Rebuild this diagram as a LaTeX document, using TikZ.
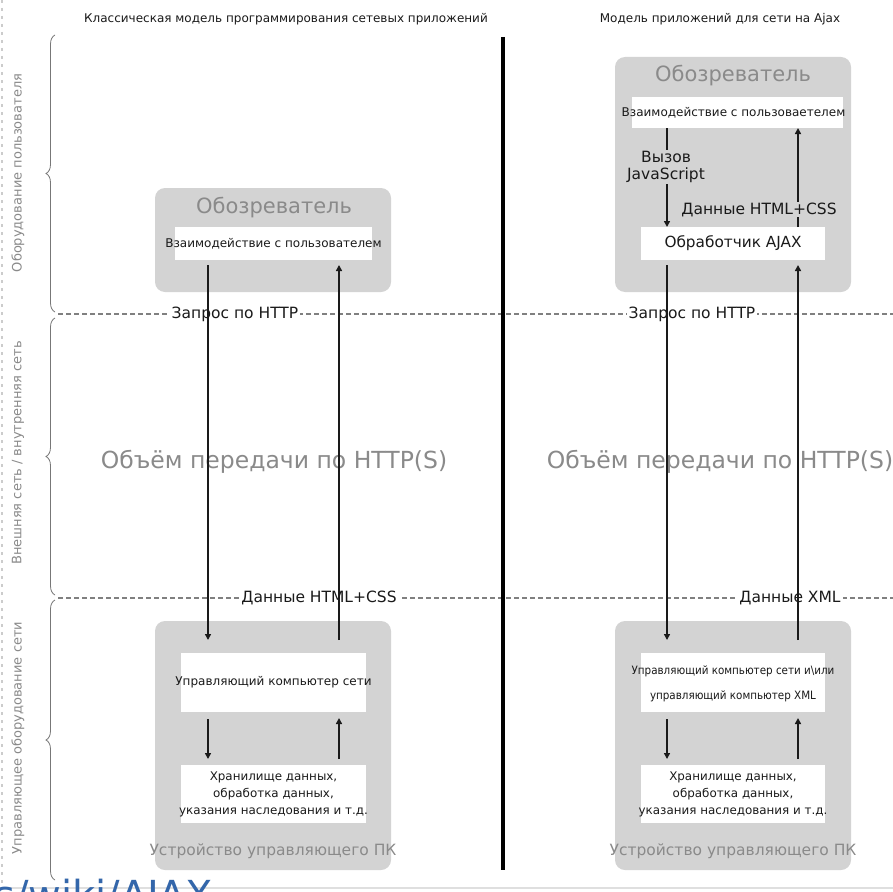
\documentclass[tikz,border=0pt]{standalone}
\usepackage{fontspec}
\setmainfont{DejaVu Sans}
\usetikzlibrary{decorations.pathreplacing,arrows.meta}
\definecolor{boxgray}{HTML}{D3D3D3}
\definecolor{txtgray}{HTML}{8A8A8A}
\definecolor{dashgray}{HTML}{808080}
\definecolor{bracegray}{HTML}{777777}
\definecolor{linkblue}{HTML}{3366AA}
\definecolor{ink}{HTML}{1A1A1A}
\begin{document}
\begin{tikzpicture}[x=1pt,y=-1pt,
  area/.style={fill=boxgray,rounded corners=10pt,draw=none,inner sep=0pt},
  wbox/.style={fill=white,draw=none,inner sep=0pt,align=center,text=ink},
  wtext/.style={text=ink,inner sep=0pt,align=center},
  areatitle/.style={text=txtgray,font=\fontsize{21}{24}\selectfont,inner sep=0pt},
  bigtxt/.style={text=txtgray,font=\fontsize{23.5}{26}\selectfont,inner sep=0pt},
  sidelab/.style={text=txtgray,font=\fontsize{13}{15}\selectfont,rotate=90,inner sep=0pt},
  headlab/.style={text=ink,font=\fontsize{12}{14}\selectfont,inner sep=0pt},
  linelab/.style={text=ink,font=\fontsize{15.5}{18}\selectfont,fill=white,inner sep=2pt},
  innerlab/.style={text=ink,font=\fontsize{15.5}{17}\selectfont,fill=boxgray,inner sep=1pt,align=center},
  sep/.style={dashgray,line width=1.2pt,dash pattern=on 5pt off 3pt},
  bracestyle/.style={bracegray,line width=0.8pt,decorate,decoration={brace,amplitude=9pt}},
  flow/.style={ink,line width=1.8pt,-{Triangle[length=6pt,width=6pt]}}
]
\clip (0,0) rectangle (893,891);
\useasboundingbox (0,0) rectangle (893,891);
\fill[white] (0,0) rectangle (893,891);

% far left dashed rule
\draw[lightgray!80,line width=1.5pt,dash pattern=on 3pt off 5pt] (2,0) -- (2,884);

% headings
\node[headlab] (h1) at (286,19) {Классическая модель программирования сетевых приложений};
\node[headlab] (h2) at (720,19) {Модель приложений для сети на Ajax};

% braces and side labels
\draw[bracestyle] (55,312) -- (55,35);
\draw[bracestyle] (55,595) -- (55,318);
\draw[bracestyle] (55,880) -- (55,600);
\node[sidelab] (s1) at (18,173) {Оборудование пользователя};
\node[sidelab] (s2) at (18,453) {Внешняя сеть / внутренняя сеть};
\node[sidelab] (s3) at (18,738) {Управляющее оборудование сети};

% dashed separators
\coordinate (d1a) at (58,314); \coordinate (d1b) at (893,314);
\coordinate (d2a) at (58,598); \coordinate (d2b) at (893,598);
\draw[sep] (d1a) -- (d1b);
\draw[sep] (d2a) -- (d2b);

% central divider
\coordinate (va) at (503,37); \coordinate (vb) at (503,870);
\draw[black,line width=4pt] (va) -- (vb);

% labels on separators
\node[linelab] (q1) at (235,314) {Запрос по HTTP};
\node[linelab] (q2) at (692,314) {Запрос по HTTP};
\node[linelab] (r1) at (319,598) {Данные HTML+CSS};
\node[linelab] (r2) at (790,598) {Данные XML};

% big middle labels
\node[bigtxt] (m1) at (274,462) {Объём передачи по HTTP(S)};
\node[bigtxt] (m2) at (720,462) {Объём передачи по HTTP(S)};

% ===== left column =====
\node[area,minimum width=236pt,minimum height=104pt] (b1) at (273,240) {};
\node[areatitle] (b1t) at (274,208) {Обозреватель};
\node[wbox,minimum width=197pt,minimum height=33pt] (u1) at (273.5,243.5) {};
\node[wtext,font=\fontsize{12}{14}\selectfont] (u1t) at (u1.center) {Взаимодействие с пользователем};

\node[area,minimum width=236pt,minimum height=249pt] (p1) at (273,745.5) {};
\node[wbox,minimum width=185pt,minimum height=59pt] (c1) at (273.5,682.5) {};
\node[wtext,font=\fontsize{12}{14}\selectfont] (c1t) at (c1.center) {Управляющий компьютер сети};
\node[wbox,minimum width=185pt,minimum height=58pt] (st1) at (273.5,794) {};
\node[wtext,font=\fontsize{11.9}{17}\selectfont] (st1t) at (st1.center) {Хранилище данных,\\обработка данных,\\указания наследования и т.д.};
\node[text=txtgray,font=\fontsize{15.5}{18}\selectfont,inner sep=0pt] (p1t) at (273,851) {Устройство управляющего ПК};

% ===== right column =====
\node[area,minimum width=236pt,minimum height=235pt] (b2) at (733,174.5) {};
\node[areatitle] (b2t) at (733,76) {Обозреватель};
\node[wbox,minimum width=211pt,minimum height=31pt] (u2) at (737.5,112.5) {};
\node[wtext,font=\fontsize{12}{14}\selectfont] (u2t) at (733.5,112.5) {Взаимодействие с пользоваетелем};
\node[wbox,minimum width=184pt,minimum height=33pt] (aj) at (733,243.5) {};
\node[wtext,font=\fontsize{15.3}{17}\selectfont] (ajt) at (aj.center) {Обработчик AJAX};

\node[area,minimum width=236pt,minimum height=249pt] (p2) at (733,745.5) {};
\node[wbox,minimum width=184pt,minimum height=59pt] (c2) at (733,682.5) {};
\node[wtext,font=\fontsize{11.5}{25}\selectfont] (c2t) at (733,684) {\scalebox{0.9}[1]{Управляющий компьютер сети и\textbackslash или}\\\scalebox{0.9}[1]{управляющий компьютер XML}};
\node[wbox,minimum width=184pt,minimum height=58pt] (st2) at (733,794) {};
\node[wtext,font=\fontsize{11.9}{17}\selectfont] (st2t) at (st2.center) {Хранилище данных,\\обработка данных,\\указания наследования и т.д.};
\node[text=txtgray,font=\fontsize{15.5}{18}\selectfont,inner sep=0pt] (p2t) at (733,851) {Устройство управляющего ПК};

% inner browser arrows (right)
\coordinate (js0) at (667,128);
\coordinate (js1) at (667,227);
\draw[flow] (js0) -- (js1);
\node[innerlab] (jsl) at (666,167) {Вызов\\JavaScript};
\coordinate (hc0) at (798,227);
\coordinate (hc1) at (798,128);
\draw[flow] (hc0) -- (hc1);
\node[innerlab] (hcl) at (759,209.5) {Данные HTML+CSS};

% long arrows
\coordinate (l1a) at (208,265); \coordinate (l1b) at (208,640);
\coordinate (l2a) at (339,640); \coordinate (l2b) at (339,265);
\coordinate (r1a) at (667,265); \coordinate (r1b) at (667,640);
\coordinate (r2a) at (798,640); \coordinate (r2b) at (798,265);
\draw[flow] (l1a) -- (l1b);
\draw[flow] (l2a) -- (l2b);
\draw[flow] (r1a) -- (r1b);
\draw[flow] (r2a) -- (r2b);

% short server arrows
\coordinate (ls1a) at (208,719); \coordinate (ls1b) at (208,759);
\coordinate (ls2a) at (339,759); \coordinate (ls2b) at (339,718);
\coordinate (rs1a) at (667,719); \coordinate (rs1b) at (667,759);
\coordinate (rs2a) at (798,759); \coordinate (rs2b) at (798,718);
\draw[flow] (ls1a) -- (ls1b);
\draw[flow] (ls2a) -- (ls2b);
\draw[flow] (rs1a) -- (rs1b);
\draw[flow] (rs2a) -- (rs2b);

% bottom fragment
\coordinate (bl0) at (0,888); \coordinate (bl1) at (893,888);
\draw[gray!25,line width=1.5pt] (bl0) -- (bl1);
\node[anchor=base west,text=linkblue,font=\fontsize{40}{42}\selectfont,inner sep=0pt] (lnk) at (-6,909) {s/wiki/AJAX};
\end{tikzpicture}
\end{document}
